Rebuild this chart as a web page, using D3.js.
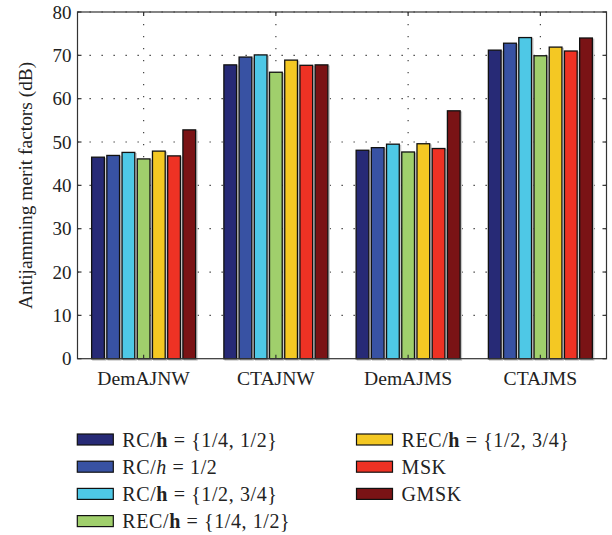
<!DOCTYPE html>
<html><head><meta charset="utf-8">
<script src="https://cdn.jsdelivr.net/npm/d3@7"></script>
<style>
html,body{margin:0;padding:0;background:#fff;}
text{font-family:"Liberation Serif","DejaVu Serif",serif;fill:#222;}
</style></head>
<body><svg id="chart" width="612" height="535"></svg>
<script>
const categories = ["DemAJNW","CTAJNW","DemAJMS","CTAJMS"];
const seriesNames = ["RC/h={1/4,1/2}","RC/h=1/2","RC/h={1/2,3/4}","REC/h={1/4,1/2}","REC/h={1/2,3/4}","MSK","GMSK"];
const seriesColors = ["#272a76","#3852a3","#4ec8e6","#a0cf6c","#f4c823","#ee3224","#7a1315"];
const rcH14 = [46.5, 67.8, 48.1, 71.2];
const rcH12 = [46.9, 69.6, 48.7, 72.8];
const rcH34 = [47.6, 70.1, 49.5, 74.1];
const recH14 = [46.1, 66.1, 47.7, 69.9];
const recH34 = [47.9, 68.9, 49.6, 71.9];
const msk = [46.8, 67.7, 48.5, 71.0];
const gmsk = [52.8, 67.8, 57.2, 74.0];
const seriesValues = [rcH14, rcH12, rcH34, recH14, recH34, msk, gmsk];
const yTicks = [0,10,20,30,40,50,60,70,80];
const yLabel = "Antijamming merit factors (dB)";

const svg = d3.select("#chart");
const L = 77.5, R = 606.5, T = 12, B = 358.7;

const x = d3.scaleBand().domain(categories).range([L, R]).padding(0);
const xs = d3.scaleBand().domain(d3.range(7)).range([-52, 52]).paddingInner(0.164).paddingOuter(0);
const y = d3.scaleLinear().domain([0, 80]).range([B, T]);

// gridlines
const g = svg.append("g");
g.selectAll(".hg").data(yTicks.slice(1)).join("line")
  .attr("x1", L).attr("x2", R).attr("y1", d => y(d)).attr("y2", d => y(d))
  .attr("stroke", "#333").attr("stroke-width", 1.2).attr("stroke-dasharray", "1.3,10.7");
g.selectAll(".vg").data(categories).join("line")
  .attr("x1", d => x(d) + x.bandwidth()/2).attr("x2", d => x(d) + x.bandwidth()/2)
  .attr("y1", T).attr("y2", B)
  .attr("stroke", "#444").attr("stroke-width", 1.2).attr("stroke-dasharray", "1.3,10.7");

// bars
const groups = svg.append("g").selectAll("g").data(categories).join("g")
  .attr("transform", d => `translate(${x(d) + x.bandwidth()/2},0)`);
groups.each(function(cat, ci) {
  const gg = d3.select(this);
  const data = seriesValues.map((vals, si) => ({si, v: vals[ci]}));
  gg.selectAll(".sh").data(data).join("rect")
    .attr("x", d => xs(d.si) + 1.3).attr("y", d => y(d.v) + 1.3)
    .attr("width", xs.bandwidth()).attr("height", d => B - y(d.v))
    .attr("fill", "none").attr("stroke", "#c8c8c8").attr("stroke-width", 1.4);
  gg.selectAll(".bar").data(data).join("rect")
    .attr("x", d => xs(d.si)).attr("y", d => y(d.v))
    .attr("width", xs.bandwidth()).attr("height", d => B - y(d.v))
    .attr("fill", d => seriesColors[d.si]).attr("stroke", "#111").attr("stroke-width", 1.3);
});

// frame
svg.append("rect").attr("x", L).attr("y", T).attr("width", R - L).attr("height", B - T)
  .attr("fill", "none").attr("stroke", "#333").attr("stroke-width", 1.2);

// ticks (inward)
const tk = svg.append("g").attr("stroke", "#333").attr("stroke-width", 1.2);
yTicks.forEach(t => {
  tk.append("line").attr("x1", L).attr("x2", L + 4).attr("y1", y(t)).attr("y2", y(t));
  tk.append("line").attr("x1", R).attr("x2", R - 4).attr("y1", y(t)).attr("y2", y(t));
});
categories.forEach(c => {
  const cx = x(c) + x.bandwidth()/2;
  tk.append("line").attr("x1", cx).attr("x2", cx).attr("y1", T).attr("y2", T + 4);
  tk.append("line").attr("x1", cx).attr("x2", cx).attr("y1", B).attr("y2", B - 4);
});

// tick labels
svg.append("g").selectAll("text").data(yTicks).join("text")
  .attr("x", L - 6).attr("y", d => y(d)).attr("dy", "0.35em")
  .attr("text-anchor", "end").attr("font-size", 19).text(d => d);
svg.append("g").selectAll("text").data(categories).join("text")
  .attr("x", d => x(d) + x.bandwidth()/2).attr("y", 385)
  .attr("text-anchor", "middle").attr("font-size", 19.6).text(d => d);

svg.append("text").attr("transform", `translate(32,${(T + B)/2}) rotate(-90)`)
  .attr("text-anchor", "middle").attr("font-size", 19.4).text(yLabel);

// legend
const legendItems = [
  {col: 0, row: 0, parts: [["RC/", ""], ["h", "b"], [" = {1/4, 1/2}", ""]]},
  {col: 0, row: 1, parts: [["RC/", ""], ["h", "i"], [" = 1/2", ""]]},
  {col: 0, row: 2, parts: [["RC/", ""], ["h", "b"], [" = {1/2, 3/4}", ""]]},
  {col: 0, row: 3, parts: [["REC/", ""], ["h", "b"], [" = {1/4, 1/2}", ""]]},
  {col: 1, row: 0, parts: [["REC/", ""], ["h", "b"], [" = {1/2, 3/4}", ""]]},
  {col: 1, row: 1, parts: [["MSK", ""]]},
  {col: 1, row: 2, parts: [["GMSK", ""]]}
];
const colX = [77.3, 356.5], rowY0 = 439.5, rowStep = 27.2;
legendItems.forEach((it, i) => {
  const lx = colX[it.col], ly = rowY0 + it.row * rowStep;
  svg.append("rect").attr("x", lx).attr("y", ly - 5.5).attr("width", 36).attr("height", 11)
    .attr("fill", seriesColors[i]).attr("stroke", "#111").attr("stroke-width", 1.2);
  const t = svg.append("text").attr("x", lx + 45).attr("y", ly).attr("dy", "0.36em")
    .attr("font-size", 20).attr("letter-spacing", 0.6);
  it.parts.forEach(p => {
    const ts = t.append("tspan").text(p[0]);
    if (p[1] === "b") ts.attr("font-weight", "bold");
    if (p[1] === "i") ts.attr("font-style", "italic");
  });
});
</script></body></html>
